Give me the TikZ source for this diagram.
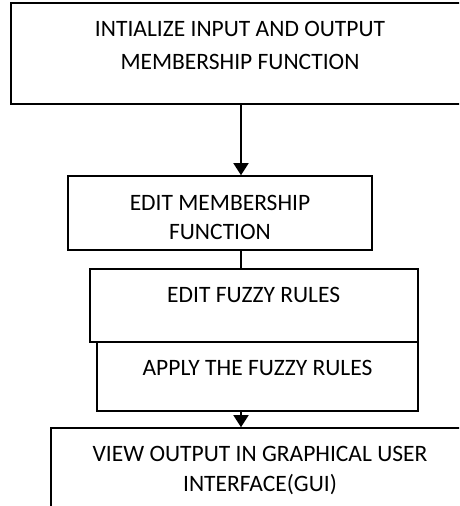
\documentclass[tikz,border=0pt]{standalone}
\usepackage{fontspec}
\setmainfont{Carlito}
\usetikzlibrary{arrows.meta}

\tikzset{
  stagebox/.style={draw=black, line width=1.6pt, inner sep=0pt, rectangle},
  caption/.style={inner sep=0pt, align=center, font=\fontsize{23.5}{30}\selectfont},
  flow/.style={line width=1.6pt},
  flowarrow/.style={flow, -{Triangle[width=15pt,length=12pt]}}
}

\begin{document}
\begin{tikzpicture}[x=1pt, y=-1pt]
  \useasboundingbox (0,0) rectangle (459,506);
  \clip (0,0) rectangle (459,506);

  % vertical line that the connectors follow
  \coordinate (spine) at (241,0);

  % stage boxes
  \node[stagebox, minimum width=454pt, minimum height=101pt] (init)  at (238,53.5) {};
  \node[stagebox, minimum width=304pt, minimum height=74pt]  (editmf) at (220,213) {};
  \node[stagebox, minimum width=328pt, minimum height=73pt]  (editfr) at (254,305.5) {};
  \node[stagebox, minimum width=321pt, minimum height=69pt]  (apply)  at (257.5,376.5) {};
  \node[stagebox, minimum width=419pt, minimum height=92pt]  (view)   at (260.5,474) {};

  % captions
  \node[caption, font=\fontsize{23.5}{32.5}\selectfont] (initT) at (240,45.3)
    {INTIALIZE INPUT AND OUTPUT\\MEMBERSHIP FUNCTION};
  \node[caption, font=\fontsize{23.5}{29}\selectfont] (editmfT) at (220,217)
    {EDIT MEMBERSHIP\\FUNCTION};
  \node[caption, anchor=base] (editfrT) at (253.7,302.7) {EDIT FUZZY RULES};
  \node[caption, anchor=base] (applyT) at (257.5,375) {APPLY THE FUZZY RULES};
  \node[caption, font=\fontsize{23.5}{30}\selectfont] (viewT) at (260,470.8)
    {VIEW OUTPUT IN GRAPHICAL USER\\INTERFACE(GUI)};

  % connectors
  \draw[flowarrow] (init.south -| spine) -- (editmf.north -| spine);
  \draw[flow] (editmf.south -| spine) -- (editfr.north -| spine);
  \draw[flowarrow] (apply.south -| spine) -- (view.north -| spine);
\end{tikzpicture}
\end{document}
